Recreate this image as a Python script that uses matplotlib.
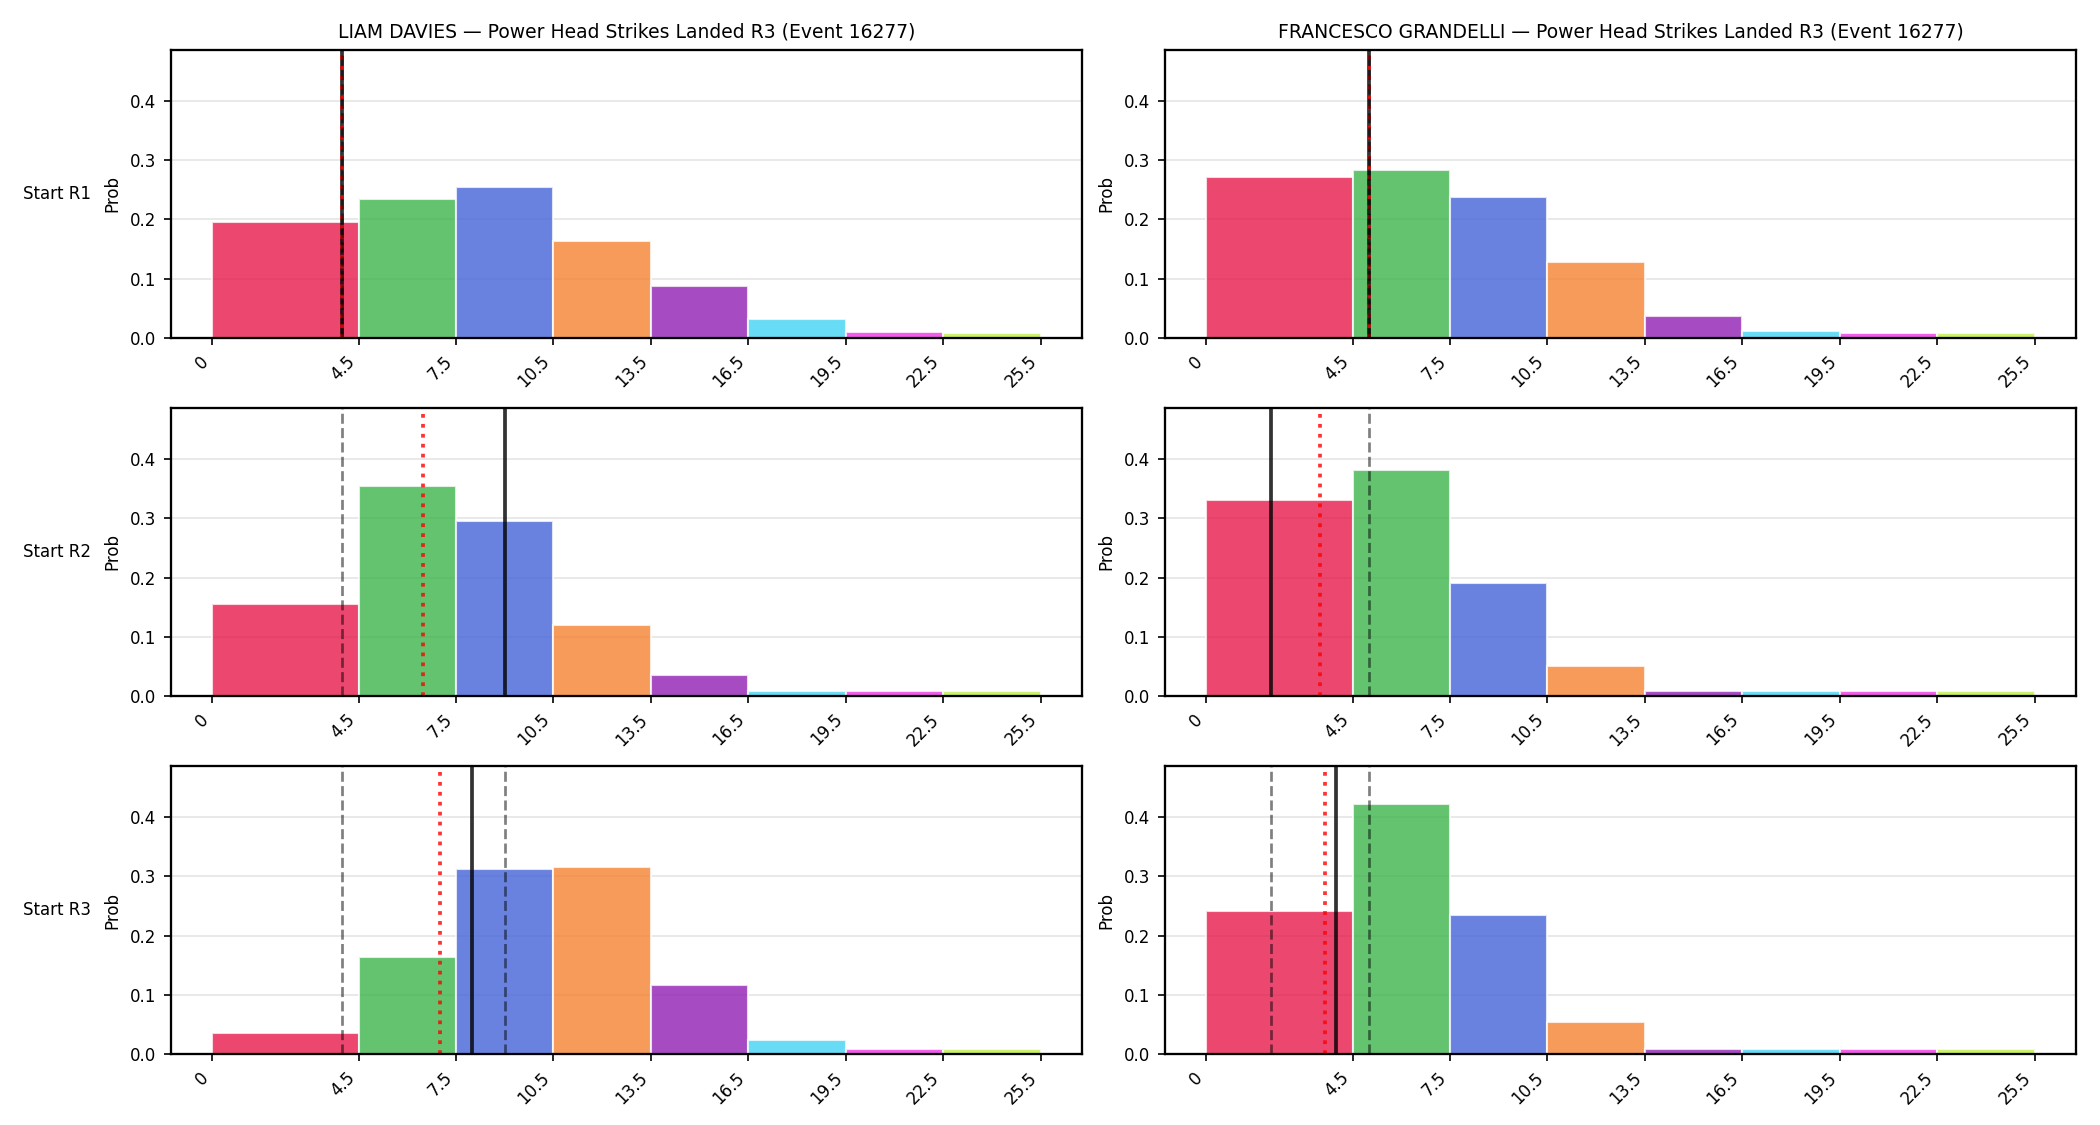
import matplotlib
matplotlib.use("Agg")
import matplotlib.pyplot as plt
import numpy as np

bin_edges = [0, 4.5, 7.5, 10.5, 13.5, 16.5, 19.5, 22.5, 25.5]
tick_labels = ["0", "4.5", "7.5", "10.5", "13.5", "16.5", "19.5", "22.5", "25.5"]
bin_colors = ["#e6194b", "#3cb44b", "#4363d8", "#f58231", "#911eb4",
              "#42d4f4", "#f032e6", "#bfef45"]

fighters = ["LIAM DAVIES", "FRANCESCO GRANDELLI"]
row_labels = ["Start R1", "Start R2", "Start R3"]

# probabilities per bin, rows = start round
liam_probs = [
    [0.195, 0.234, 0.255, 0.163, 0.087, 0.032, 0.010, 0.008],
    [0.156, 0.354, 0.295, 0.120, 0.036, 0.008, 0.008, 0.008],
    [0.035, 0.164, 0.312, 0.316, 0.117, 0.023, 0.009, 0.008],
]
fran_probs = [
    [0.271, 0.284, 0.238, 0.128, 0.037, 0.011, 0.008, 0.008],
    [0.331, 0.381, 0.191, 0.050, 0.008, 0.008, 0.008, 0.008],
    [0.241, 0.423, 0.235, 0.054, 0.008, 0.008, 0.008, 0.008],
]
# per-round observed values (current round = solid black, previous = grey dashed,
# running average = red dotted)
liam_rounds = [4, 9, 8]
fran_rounds = [5, 2, 4]

all_probs = [liam_probs, fran_probs]
all_rounds = [liam_rounds, fran_rounds]
ymax = max(max(max(r) for r in p) for p in all_probs) * 1.15

fig, axes = plt.subplots(3, 2, figsize=(14, 7.5), dpi=150)
fig.subplots_adjust(left=0.0814, right=0.9886, top=0.9556, bottom=0.0631,
                    wspace=0.091, hspace=0.244)

edges = np.array(bin_edges)
widths = np.diff(edges)

for c in range(2):
    probs = all_probs[c]
    rounds = all_rounds[c]
    for r in range(3):
        ax = axes[r, c]
        ax.set_axisbelow(True)
        ax.grid(axis="y", color="#e8e8e8", linewidth=0.9)
        ax.bar(edges[:-1], probs[r], width=widths, align="edge",
               color=bin_colors, alpha=0.8, edgecolor="white", linewidth=1.0)
        for prev in rounds[:r]:
            ax.axvline(prev, color="black", linestyle="--", linewidth=1.3, alpha=0.5)
        avg = float(np.mean(rounds[:r + 1]))
        ax.axvline(rounds[r], color="black", linestyle="-", linewidth=1.8, alpha=0.8)
        ax.axvline(avg, color="red", linestyle=":", linewidth=1.8, alpha=0.8)
        if r == 0:
            ax.axvline(rounds[r], color="black", linestyle="--", linewidth=1.3, alpha=0.5)
        ax.set_ylim(0, ymax)
        ax.set_yticks([0.0, 0.1, 0.2, 0.3, 0.4])
        ax.set_xticks(bin_edges)
        ax.set_xticklabels(tick_labels, rotation=45, ha="right", fontsize=8)
        ax.tick_params(axis="y", labelsize=8)
        ax.set_ylabel("Prob", fontsize=8)
        for s in ax.spines.values():
            s.set_linewidth(1.1)
        if r == 0:
            ax.set_title(f"{fighters[c]} — Power Head Strikes Landed R3 (Event 16277)",
                         fontsize=9)
        if c == 0:
            pos = ax.get_position()
            fig.text(23 / 2100, (pos.y0 + pos.y1) / 2, row_labels[r],
                     ha="left", va="center", fontsize=8)

fig.savefig("out.png", dpi=150)
